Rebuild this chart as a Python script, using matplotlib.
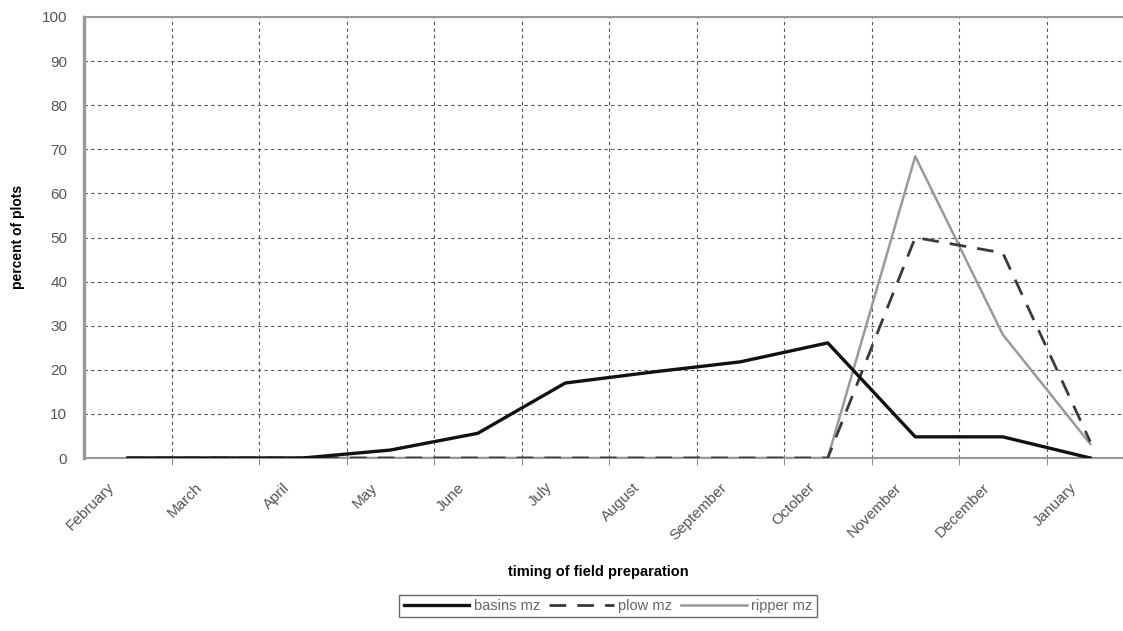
import matplotlib.pyplot as plt
import numpy as np

plt.rcParams['font.family'] = ['Liberation Sans', 'DejaVu Sans']

# data
months = ['February', 'March', 'April', 'May', 'June', 'July', 'August',
          'September', 'October', 'November', 'December', 'January']
basins = [0, 0, 0, 1.8, 5.6, 17, 19.5, 21.8, 26.1, 4.8, 4.8, 0]
plow = [0, 0, 0, 0, 0, 0, 0, 0, 0, 50, 46.5, 3.7]
ripper = [0, 0, 0, 0, 0, 0, 0, 0, 0, 68.4, 28, 3.2]

x = np.arange(len(months))

fig = plt.figure(figsize=(11.23, 6.31), dpi=100)
# plot area runs slightly past the right edge, like the source image
ax = fig.add_axes([84/1123, 1 - 458/631, 1050/1123, 441/631])

ax.plot(x, ripper, color='#9a9a9a', lw=1.8, label='ripper mz', zorder=3)
ax.plot(x, plow, color='#3a3a3a', lw=2.0, ls=(0, (6, 4)), label='plow mz', zorder=4)
ax.plot(x, basins, color='#111111', lw=2.4, label='basins mz', zorder=5)

ax.set_xlim(-0.5, len(months) - 0.5)
ax.set_ylim(0, 100)
ax.set_yticks(np.arange(0, 101, 10))
ax.set_xticks(x - 0.12)
ax.set_xticklabels(months, rotation=45, ha='right', va='top', fontsize=11, color='#555555')
ax.set_xticks(np.arange(0.5, len(months) - 0.5, 1), minor=True)
ax.tick_params(axis='x', which='major', length=0, pad=16)
ax.tick_params(axis='x', which='minor', length=5, color='#777777', direction='out')
ax.tick_params(axis='y', length=0, pad=12, labelsize=11, labelcolor='#555555')

ax.grid(True, axis='y', which='major', color='#555555', lw=0.8, ls=(0, (3, 3)))
ax.grid(True, axis='x', which='minor', color='#555555', lw=0.8, ls=(0, (3, 3)))

for side in ['left', 'bottom', 'top']:
    ax.spines[side].set_color('#999999')
ax.spines['left'].set_linewidth(2.5)
ax.spines['bottom'].set_linewidth(1.5)
ax.spines['top'].set_linewidth(1.5)
ax.spines['right'].set_visible(False)

fig.text(18/1123, 1 - 237/631, 'percent of plots', rotation=90, ha='center', va='center',
         fontsize=10, fontweight='bold')
fig.text(598/1123, 1 - 572/631, 'timing of field preparation', ha='center', va='center',
         fontsize=10.5, fontweight='bold')

handles, labels = ax.get_legend_handles_labels()
order = [2, 1, 0]
leg = fig.legend([handles[i] for i in order], [labels[i] for i in order],
                 loc='center', bbox_to_anchor=(608/1123, 1 - 606/631), ncol=3,
                 frameon=True, fancybox=False, fontsize=10.5, handlelength=4.5,
                 columnspacing=0.6, handletextpad=0.3, borderpad=0.3)
leg.get_frame().set_edgecolor('#444444')
leg.get_frame().set_linewidth(1.0)
for t in leg.get_texts():
    t.set_color('#666666')

fig.savefig('out.png', dpi=100)
